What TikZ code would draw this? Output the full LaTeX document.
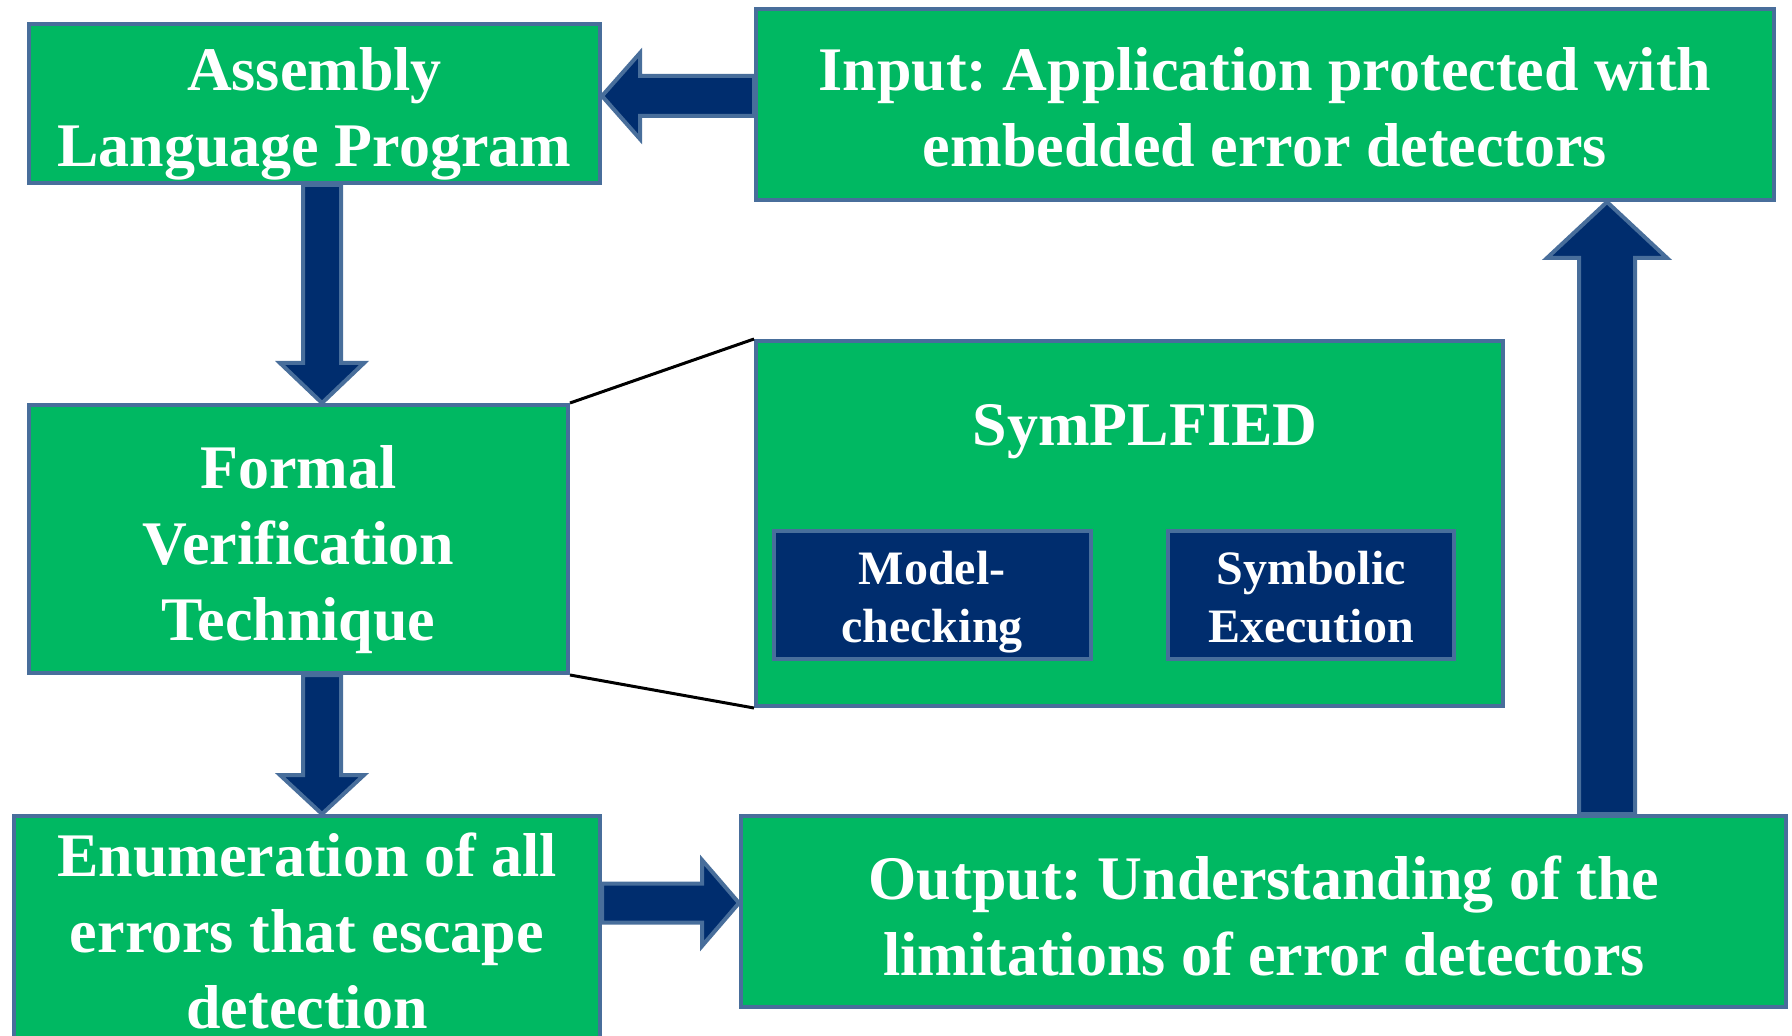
\documentclass[tikz,border=0pt]{standalone}
\usepackage{fontspec}
\setmainfont{Liberation Serif}
\usetikzlibrary{calc,fit}
\frenchspacing

\definecolor{boxgreen}{RGB}{0,184,98}
\definecolor{edgeblue}{RGB}{72,110,155}
\definecolor{navy}{RGB}{0,45,110}

% centred stack of lines whose baseline is that of the first line
\newcommand\stack[1]{\begin{tabular}[t]{@{}c@{}}#1\end{tabular}}

% block arrow: #1 tail, #2 tip, #3 shaft half width, #4 head half width, #5 head length
\newcommand\blockarrow[5]{%
  \coordinate (ba-b) at ($(#2)!#5!(#1)$);
  \draw[barrow] ($(#1)!#3!90:(#2)$) -- ($(ba-b)!#3!-90:(#1)$) -- ($(ba-b)!#4!-90:(#1)$)
    -- (#2) -- ($(ba-b)!#4!90:(#1)$) -- ($(ba-b)!#3!90:(#1)$) -- ($(#1)!#3!-90:(#2)$) -- cycle;
}

\begin{document}
\begin{tikzpicture}[x=0.5pt,y=-0.5pt,
  box/.style={draw=edgeblue, fill=boxgreen, line width=2pt, inner sep=0pt},
  subbox/.style={box, fill=navy},
  lbl/.style={anchor=base, inner sep=0pt, text=white,
    font=\bfseries\fontsize{31pt}{38pt}\selectfont},
  sublbl/.style={lbl, font=\bfseries\fontsize{24pt}{28.5pt}\selectfont},
  barrow/.style={draw=edgeblue, fill=navy, line width=2pt, line join=miter},
  zoomline/.style={draw=black, line width=1.5pt}]

\useasboundingbox (0,0) rectangle (1792,1036);

% main boxes
\node[box, fit={(29,24) (600,183)}] (asm) {};
\node[box, fit={(756,9) (1774,200)}] (inp) {};
\node[box, fit={(29,405) (568,673)}] (fvt) {};
\node[box, fit={(14,816) (600,1046)}] (enu) {};
\node[box, fit={(741,816) (1786,1007)}] (out) {};

\node[lbl] (asm-t) at (314.5,91) {\stack{Assembly\\Language Program}};
\node[lbl] (inp-t) at (1265,91) {\stack{Input: Application protected with\\embedded error detectors}};
\node[lbl] (fvt-t) at (298.5,489) {\stack{Formal\\Verification\\Technique}};
\node[lbl] (enu-t) at (307,876) {\stack{Enumeration of all\\errors that escape\\detection}};
\node[lbl] (out-t) at (1264,899) {\stack{Output: Understanding of the\\limitations of error detectors}};

% SymPLFIED detail box
\node[box, fit={(756,341) (1503,706)}] (sym) {};
\node[lbl] (sym-t) at (1145,446) {SymPLFIED};
\node[subbox, fit={(774,531) (1091,659)}] (mc) {};
\node[subbox, fit={(1168,531) (1454,659)}] (se) {};
\node[sublbl] (mc-t) at (932,585) {\stack{Model-\\checking}};
\node[sublbl] (se-t) at (1311,585) {\stack{Symbolic\\Execution}};

% lines tying the technique box to its detail
\draw[zoomline] (fvt.north east) -- (sym.north west);
\draw[zoomline] (fvt.south east) -- (sym.south west);

% arrow axes
\coordinate (ax1) at (0,96);
\coordinate (ax2) at (322,0);
\coordinate (ax4) at (0,903);
\coordinate (ax5) at (1607,0);

\coordinate (a1t) at (inp.west |- ax1);
\coordinate (a1p) at (asm.east |- ax1);
\coordinate (a2t) at (ax2 |- asm.south);
\coordinate (a2p) at (ax2 |- fvt.north);
\coordinate (a3t) at (ax2 |- fvt.south);
\coordinate (a3p) at (ax2 |- enu.north);
\coordinate (a4t) at (enu.east |- ax4);
\coordinate (a4p) at (out.west |- ax4);
\coordinate (a5t) at (ax5 |- out.north);
\coordinate (a5p) at (ax5 |- inp.south);

\blockarrow{a1t}{a1p}{10pt}{21.5pt}{19pt}
\blockarrow{a2t}{a2p}{9.5pt}{21pt}{20pt}
\blockarrow{a3t}{a3p}{9.5pt}{21pt}{19.5pt}
\blockarrow{a4t}{a4p}{9.75pt}{21.5pt}{18.5pt}
\blockarrow{a5t}{a5p}{14pt}{30pt}{28pt}

\end{tikzpicture}
\end{document}
